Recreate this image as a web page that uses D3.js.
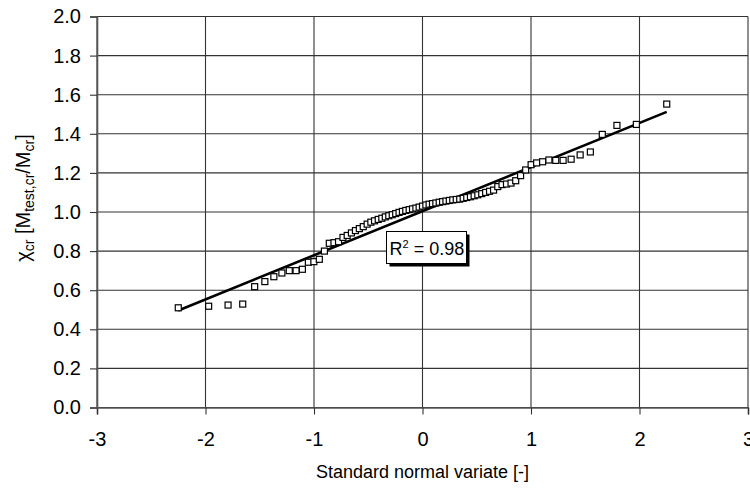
<!DOCTYPE html>
<html>
<head>
<meta charset="utf-8">
<script src="https://cdn.jsdelivr.net/npm/d3@7"></script>
<style>
  html, body { margin: 0; padding: 0; background: #fff; }
  svg { display: block; font-family: "Liberation Sans", Arial, sans-serif; }
</style>
</head>
<body>
<svg id="chart" width="750" height="490"></svg>
<script>
// Standard normal variate (plotting positions) of each test
const zValues = [
  -2.251, -1.971, -1.792, -1.657, -1.547, -1.453, -1.370, -1.296, -1.228, -1.165,
  -1.107, -1.052, -1.001, -0.951, -0.904, -0.859, -0.816, -0.774, -0.733, -0.694,
  -0.655, -0.618, -0.582, -0.546, -0.510, -0.476, -0.442, -0.408, -0.375, -0.343,
  -0.311, -0.279, -0.247, -0.216, -0.185, -0.154, -0.123, -0.092, -0.061, -0.031,
   0.000,  0.031,  0.061,  0.092,  0.123,  0.154,  0.185,  0.216,  0.247,  0.279,
   0.311,  0.343,  0.375,  0.408,  0.442,  0.476,  0.510,  0.546,  0.582,  0.618,
   0.655,  0.694,  0.733,  0.774,  0.816,  0.859,  0.904,  0.951,  1.001,  1.052,
   1.107,  1.165,  1.228,  1.296,  1.370,  1.453,  1.547,  1.657,  1.792,  1.971,
   2.251
];

// Ranked ratios chi_cr = M_test,cr / M_cr
const chiValues = [
  0.510, 0.518, 0.524, 0.529, 0.618, 0.644, 0.669, 0.688, 0.700, 0.700,
  0.707, 0.743, 0.746, 0.758, 0.800, 0.840, 0.843, 0.848, 0.870, 0.880,
  0.893, 0.905, 0.915, 0.925, 0.938, 0.948, 0.955, 0.962, 0.968, 0.975,
  0.981, 0.986, 0.992, 0.998, 1.003, 1.008, 1.012, 1.016, 1.020, 1.025,
  1.030, 1.036, 1.040, 1.043, 1.046, 1.050, 1.053, 1.056, 1.059, 1.062,
  1.064, 1.066, 1.070, 1.074, 1.078, 1.083, 1.088, 1.094, 1.100, 1.106,
  1.112, 1.130, 1.140, 1.143, 1.148, 1.160, 1.186, 1.215, 1.242, 1.251,
  1.257, 1.266, 1.264, 1.264, 1.270, 1.292, 1.307, 1.397, 1.443, 1.448,
  1.552
];

const xTickValues = [-3, -2, -1, 0, 1, 2, 3];
const yTickValues = [0, 0.2, 0.4, 0.6, 0.8, 1.0, 1.2, 1.4, 1.6, 1.8, 2.0];
const rSquaredLabel = "0.98";

const svg = d3.select("#chart");
const plot = { left: 97, right: 748, top: 16.5, bottom: 407.5 };

const x = d3.scaleLinear().domain([-3, 3]).range([plot.left, plot.right]);
const y = d3.scaleLinear().domain([0, 2]).range([plot.bottom, plot.top]);

// Gridlines
svg.append("g").selectAll("line.h").data(yTickValues).join("line")
  .attr("x1", plot.left).attr("x2", plot.right)
  .attr("y1", d => y(d)).attr("y2", d => y(d))
  .attr("stroke", "#333").attr("stroke-width", 1.1);
svg.append("g").selectAll("line.v").data(xTickValues).join("line")
  .attr("x1", d => x(d)).attr("x2", d => x(d))
  .attr("y1", plot.top).attr("y2", plot.bottom)
  .attr("stroke", "#333").attr("stroke-width", 1.1);

// Axes (plain hyphen-minus on negative ticks)
const xAxis = d3.axisBottom(x).tickValues(xTickValues).tickSize(7).tickPadding(17)
  .tickFormat(d => String(d));
const yAxis = d3.axisLeft(y).tickValues(yTickValues).tickSize(7).tickPadding(9)
  .tickFormat(d => d.toFixed(1));

const gx = svg.append("g").attr("transform", `translate(0,${plot.bottom})`).call(xAxis);
const gy = svg.append("g").attr("transform", `translate(${plot.left},0)`).call(yAxis);
[gx, gy].forEach(g => {
  g.select(".domain").attr("stroke", "#555").attr("stroke-width", 1.6);
  g.selectAll(".tick line").attr("stroke", "#333").attr("stroke-width", 1.1);
  g.selectAll(".tick text").attr("fill", "#000")
    .style("font-family", "'Liberation Sans', Arial, sans-serif")
    .style("font-size", "20px");
});

// Least-squares trend line through the points
const n = zValues.length;
const mx = d3.mean(zValues), my = d3.mean(chiValues);
let sxy = 0, sxx = 0;
for (let i = 0; i < n; i++) {
  sxy += (zValues[i] - mx) * (chiValues[i] - my);
  sxx += (zValues[i] - mx) ** 2;
}
const slope = sxy / sxx, intercept = my - slope * mx;
const xExt = d3.extent(zValues);
svg.append("path")
  .datum(xExt.map(v => [v, intercept + slope * v]))
  .attr("d", d3.line().x(d => x(d[0])).y(d => y(d[1])))
  .attr("stroke", "#000").attr("stroke-width", 2.6).attr("fill", "none");

// Data markers
svg.append("g").selectAll("rect").data(d3.zip(zValues, chiValues)).join("rect")
  .attr("x", d => x(d[0]) - 3).attr("y", d => y(d[1]) - 3)
  .attr("width", 6).attr("height", 6)
  .attr("fill", "#fff").attr("stroke", "#000").attr("stroke-width", 1.2);

// R² label box with drop shadow
const box = { x: 386.5, y: 231.5, w: 80, h: 32 };
svg.append("rect").attr("x", box.x + 3).attr("y", box.y + 3)
  .attr("width", box.w).attr("height", box.h).attr("fill", "#000");
svg.append("rect").attr("x", box.x).attr("y", box.y)
  .attr("width", box.w).attr("height", box.h)
  .attr("fill", "#fff").attr("stroke", "#000").attr("stroke-width", 1);
const rt = svg.append("text").attr("x", box.x + 3).attr("y", box.y + 23)
  .style("font-size", "18px").attr("fill", "#000");
rt.append("tspan").text("R");
rt.append("tspan").attr("dy", -7).style("font-size", "11px").text("2");
rt.append("tspan").attr("dy", 7).text(" = " + rSquaredLabel);

// Axis titles
svg.append("text").attr("x", (plot.left + plot.right) / 2).attr("y", 478)
  .attr("text-anchor", "middle").style("font-size", "18px").attr("fill", "#000")
  .text("Standard normal variate [-]");

const yt = svg.append("text")
  .attr("transform", "translate(30,198) rotate(-90)")
  .attr("text-anchor", "middle").style("font-size", "20px").attr("fill", "#000");
yt.append("tspan").text("χ");
yt.append("tspan").attr("dy", 4).style("font-size", "14px").text("cr");
yt.append("tspan").attr("dy", -4).text(" [M");
yt.append("tspan").attr("dy", 4).style("font-size", "14px").text("test,cr");
yt.append("tspan").attr("dy", -4).text("/M");
yt.append("tspan").attr("dy", 4).style("font-size", "14px").text("cr");
yt.append("tspan").attr("dy", -4).text("]");
</script>
</body>
</html>
